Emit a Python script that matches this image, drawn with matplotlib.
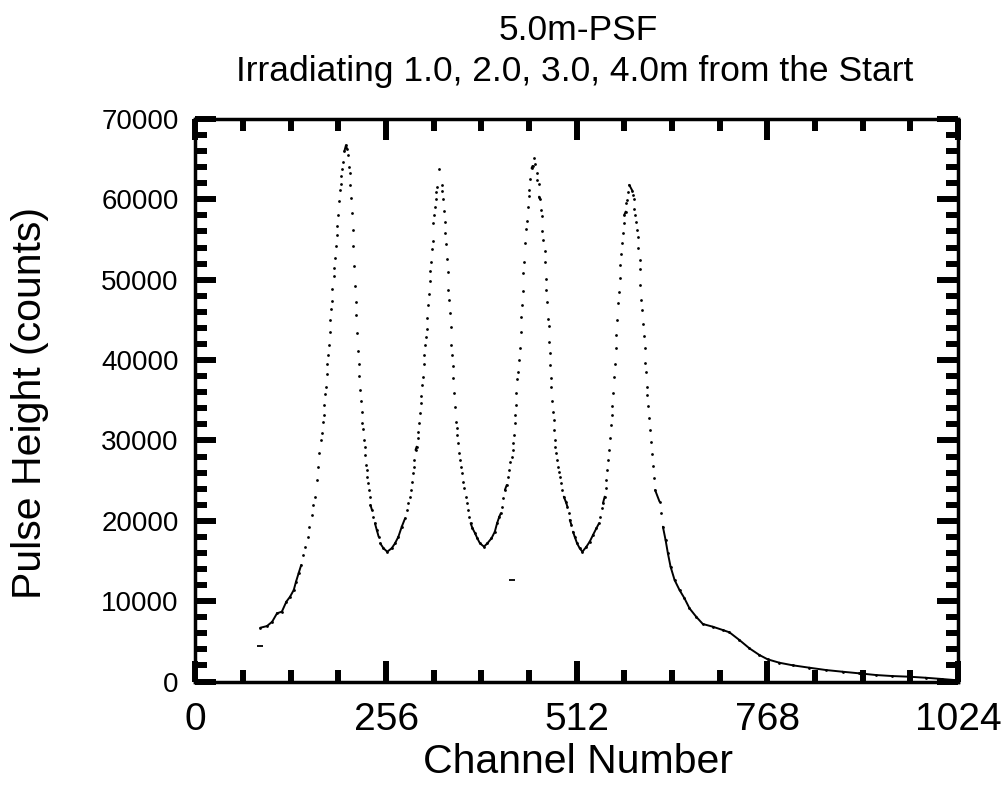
import numpy as np
import matplotlib
matplotlib.use("Agg")
import matplotlib.pyplot as plt
from matplotlib.collections import LineCollection
from matplotlib.ticker import MultipleLocator, FixedLocator

plt.rcParams['font.family'] = ['Liberation Sans', 'DejaVu Sans']

title_lines = ["5.0m-PSF", "Irradiating 1.0, 2.0, 3.0, 4.0m from the Start"]
x_label = "Channel Number"
y_label = "Pulse Height (counts)"
x_ticks = [0, 256, 512, 768, 1024]
y_ticks = [0, 10000, 20000, 30000, 40000, 50000, 60000, 70000]

channels = [
    87, 96, 103, 109.5, 116, 122, 127, 132, 135, 138.5, 142, 145, 147.5, 150.5, 153, 156, 158.5, 161, 163, 165,
    166, 168.5, 170, 171, 172, 173, 174, 175, 176, 177, 178, 179, 180, 181, 182, 183, 184, 185.5, 186.5, 187.5,
    188.5, 189.5, 190.5, 191.5, 192.5, 193.5, 195, 196, 197, 198, 200, 202, 203.5,
    205, 206, 207, 208, 209, 210, 211, 212, 213, 214, 215, 216, 217, 218, 219, 220, 221, 222,
    223, 224, 225, 226, 227, 228, 229, 230, 231, 232, 233, 234, 235, 237, 239, 241, 243.5, 246, 248, 252.5,
    257.5, 263.5, 268, 272.5, 277, 281.5, 284, 286, 287.5, 289, 290.5, 292, 293, 294, 295.5, 297, 298.5, 299.5,
    300.5, 301.5, 302.5, 303.5, 304.5, 305.5, 306.5, 307.5, 308.5, 309.5, 310.5, 311.5, 312.5, 313.5, 314.5,
    315.5, 316.5, 317.5, 318.5, 319.5, 320.5, 321.5, 322.5, 323.5, 325, 327.5,
    330.5, 331.5, 332.5, 333.5, 334.5, 335.5, 336.5, 337.5, 338.5, 339.5, 340.5, 341.5, 342.5, 343.5, 344.5,
    345.5, 346.5, 347.5, 348.5, 349.8, 350.8, 351.6, 352.5, 353.5, 355, 356.5, 358, 359.5, 361, 363, 364.5,
    366, 367.5, 369.5, 372, 375.5, 378.5, 382, 387.5, 392, 397.5, 402, 405, 408, 410, 412, 413, 415.5, 418,
    420, 421, 423, 424.5, 425.8, 426.6, 427.6, 428.5, 429.5, 430.3, 431, 432, 433, 434.5, 435.5, 436.5, 437.5,
    438.8, 439.6, 440.5, 441.3, 443, 443.8, 444.6, 445.9, 447.3, 448.2, 449.4, 451.3, 452.6, 454.8,
    456.6, 458, 459.3, 460.7, 461.5, 462.4, 463.7, 465.1, 465.5, 466.2, 469.1, 469.5, 470.4, 470.8, 472.2,
    474, 474.5, 475, 475.5, 476.7, 477.5, 478.1, 479.4, 480.2, 481.2, 481.6, 482.5, 483.4, 484.8, 486.1,
    486.9, 488.3, 489.6, 491.5, 492.8, 494.6, 497.3, 499.5, 501.3, 502.6, 504.9, 507, 509.3, 512.4, 516,
    519.6, 525, 529.4, 533.8, 538.4, 541.9, 543.8, 545.9, 547.2, 549.5, 550.9, 551.8, 552.6, 553.9, 555.3,
    556.2, 557.6, 558.9, 559.8, 560.6, 561.6, 562.9, 564.3, 565.2, 565.7, 567.4, 568.3, 570.1, 570.5, 571.4,
    572.3, 573.6, 575, 575.8, 577.7, 578.1, 579, 580.4, 582.5,
    586.6, 587.5, 588.8, 589.3, 590.2, 592, 592.8, 593.8, 594.7, 596.4, 596.9, 597.3, 598.7, 599.1, 600.9,
    601.8, 603.1, 603.6, 605.4, 605.8, 606.2, 607.2, 608.5, 609.9, 611.2, 612.6, 613.9, 615.2, 617.2, 623.2,
    625.5, 627.7, 631.3, 634.4, 638, 643.4, 650, 656.7, 663.4, 672.4, 681.3, 694.7, 708.1, 717.1, 730.5,
    743.9, 757.3, 768.4, 784.1, 801.9, 824.3, 846.7, 868.9, 891.3, 913.7, 935.9, 958.3, 980.7, 1002.9, 1018.6,
]

counts = [
    6690, 6900, 7440, 8490, 8690, 9930, 10550, 11390, 12420, 13470, 14500, 15740, 16780, 18020, 19260, 20720, 21970, 23000, 25080, 26730,
    28400, 30050, 30890, 32330, 33160, 34450, 35740, 36650, 38270, 39480, 40600, 41880, 43460, 44990, 46390, 47390, 48810, 50500, 51420, 52670,
    54200, 55530, 56720, 58020, 59840, 61170, 61880, 62950, 63780, 64610, 66000, 66700, 66300,
    65520, 64070, 63240, 61750, 60210, 58300, 56150, 54160, 51710, 49180, 47270, 45570, 43410, 41170, 39510, 38060, 36280, 34910,
    33580, 32210, 31390, 30050, 29220, 28190, 26940, 26320, 25490, 24670, 23830, 23000, 21970, 21340, 20510, 19690, 18850, 18020, 17200, 16580,
    16150, 16580, 17200, 18020, 19260, 20310, 21340, 22180, 23000, 23830, 24870, 25910, 26730, 27570, 28810, 29220, 30270, 31090,
    32130, 33380, 34620, 35570, 36860, 37860, 39480, 40600, 41880, 42910, 43870, 45200, 46850, 48220, 49880,
    51120, 52210, 53790, 54860, 57020, 58050, 59010, 60080, 60920, 61580, 63750,
    61790, 61040, 60050, 58550, 57220, 55850, 54480, 52540, 50920, 48720, 47440, 45820, 44080, 41910, 40630,
    39260, 37730, 35940, 34200, 32330, 31510, 30680, 29640, 28400, 27570, 26730, 25910, 24870, 24040, 23000, 22180,
    21340, 20510, 19690, 19070, 18440, 17820, 17200, 16780, 17200, 17820, 18640, 19690, 20510, 20930, 21750, 22800, 23830, 24450,
    25490, 26320, 27350, 27980, 28810, 29640, 30680, 32130, 33160, 34410, 35870, 37610, 38480, 40010, 41540, 43460, 45320,
    46820, 48600, 50870, 52240, 54530, 56350, 57310, 59010, 60420, 61130, 62530, 63870, 64150, 65200,
    64360, 63320, 62410, 61880, 60330, 60050, 58640, 57970, 56100, 54940, 53610, 52170, 50050, 48680, 47190,
    45110, 44280, 42250, 40840, 39390, 37730, 36690, 34940, 33580, 32540, 31300, 30050, 29220, 28400, 27570,
    26730, 26110, 25490, 24670, 23830, 23000, 22380, 21750, 20930, 20100, 19480, 18640, 18020, 17200, 16580,
    16150, 16780, 17400, 18230, 19070, 19690, 20510, 21550, 22180, 23000, 24040, 25080, 26320, 27570, 28810,
    30270, 31920, 33160, 34280, 35940, 37930, 39550, 41540, 43080, 45030, 47070, 48430, 50180, 51830, 53240,
    54530, 55780, 57060, 58050, 58470, 59510, 59920, 60950, 61800,
    61080, 60540, 60010, 58800, 58020, 57220, 56230, 55280, 53990, 52490, 51300, 49340, 47480, 46200, 44530,
    43000, 41540, 39670, 38520, 36610, 35650, 34280, 32790, 31300, 29800, 28310, 26820, 25320, 23830, 22380,
    20930, 19260, 17610, 15950, 14290, 12630, 11390, 10350, 9110, 8060, 7160, 6820, 6410, 6120, 5160,
    4130, 3300, 2760, 2340, 2020, 1720, 1430, 1220, 1020, 810, 680, 600, 470, 310, 190,
]

stray_channels = [86, 424.5]
stray_counts = [4420, 12630]

fig = plt.figure(figsize=(10.06, 7.91), dpi=100)
ax = fig.add_axes([0.1943, 0.1384, 0.758, 0.7112])

ch = np.asarray(channels, dtype=float)
ct = np.asarray(counts, dtype=float)
dch = np.diff(ch)
slope = np.abs(np.diff(ct)) / dch
join = (slope < 370) | ((dch > 3) & (slope < 700))
segs = [[(ch[i], ct[i]), (ch[i + 1], ct[i + 1])] for i in np.where(join)[0]]
ax.add_collection(LineCollection(segs, colors='black', linewidths=1.4, capstyle='round'))
ax.plot(ch, ct, linestyle='none', marker='o', ms=2.0, mew=0, color='black')
ax.plot(stray_channels, stray_counts, linestyle='none', marker='_', ms=5, mew=1.3, color='black')

ax.set_xlim(0, 1024)
ax.set_ylim(0, 70000)
ax.xaxis.set_major_locator(FixedLocator(x_ticks))
ax.yaxis.set_major_locator(FixedLocator(y_ticks))
ax.xaxis.set_minor_locator(MultipleLocator(64))
ax.yaxis.set_minor_locator(MultipleLocator(2000))
ax.set_xticklabels([str(v) for v in x_ticks])
ax.set_yticklabels([str(v) for v in y_ticks])

ax.tick_params(which='both', direction='in', top=True, right=True, color='black')
ax.tick_params(which='major', length=15, width=4.3)
ax.tick_params(axis='x', which='major', pad=15, labelsize=28)
ax.tick_params(axis='y', which='major', pad=12, labelsize=20)
ax.tick_params(which='minor', length=8.5, width=4.3)
for s in ax.spines.values():
    s.set_linewidth(2.5)

ax.set_xlabel(x_label, fontsize=29.5, va='center')
ax.xaxis.set_label_coords(0.502, -0.143)
ax.set_ylabel(y_label, fontsize=29.5, va='center')
ax.yaxis.set_label_coords(-0.217, 0.495)
fig.text(578 / 1006, 1 - 30 / 791, title_lines[0], ha='center', va='center', fontsize=25.5)
fig.text(575 / 1006, 1 - 72 / 791, title_lines[1], ha='center', va='center', fontsize=25.5)

fig.savefig("out.png", dpi=100)
